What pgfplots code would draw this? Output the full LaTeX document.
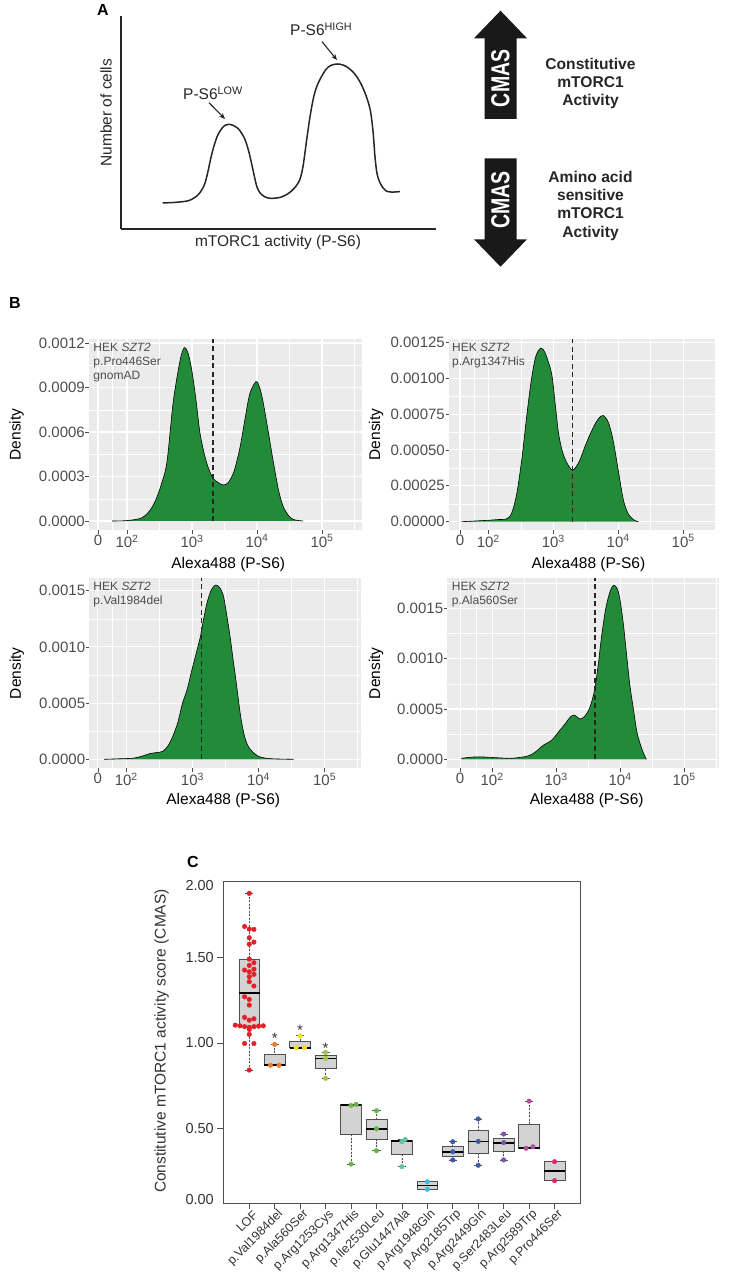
\documentclass[border=0pt]{standalone}
\usepackage{pgfplots}
\pgfplotsset{compat=1.18}
\usepackage{pgfplotstable}
\usepgfplotslibrary{statistics}
\usetikzlibrary{arrows.meta}
\usepackage{fontspec}
\setmainfont{Liberation Sans}
\newfontfamily\condbold[FakeStretch=0.75]{Liberation Sans Bold}
\definecolor{ggbg}{HTML}{EBEBEB}
\definecolor{gggreen}{RGB}{34,139,58}
\definecolor{txtgray}{HTML}{4D4D4D}
\definecolor{txt2}{HTML}{333333}
\definecolor{boxfill}{HTML}{D3D3D3}
\definecolor{boxline}{HTML}{505050}
\definecolor{cred}{RGB}{228,30,38}
\definecolor{corange}{RGB}{232,125,45}
\definecolor{cyellow}{RGB}{245,225,20}
\definecolor{cyg}{RGB}{160,200,60}
\definecolor{cgreen}{RGB}{105,180,70}
\definecolor{cteal}{RGB}{100,195,160}
\definecolor{ccyan}{RGB}{60,185,230}
\definecolor{cblue}{RGB}{60,90,165}
\definecolor{cpurple}{RGB}{120,85,165}
\definecolor{cmag}{RGB}{175,80,160}
\definecolor{cpink}{RGB}{225,40,110}

% Panel A schematic curve (x in px, y = height above axis, 300 = axis top)
\pgfplotstableread{
x y
162.7 36.7
175 37.5
188.7 40
198 48
204 61
207.5 78
211 101
214.6 120
218 133
221.7 141.4
225 146
228.8 147.5
233 146
238.2 141.4
242 134
245.3 125
249 108
252.4 87
255 70
257 59
260 51
264 46
268.5 43.5
273.6 43.3
280 44.5
287.7 49.4
294 57
299.5 68.3
303 88
306.6 125
310 158
313.7 186.2
318 205
325.5 224
331 230.5
337.3 232.4
343 231
349 226.3
355 218
360.8 205
366 188
370.3 167.3
373 138
375 101.3
377 78
379.7 66
383 58
386.8 53.2
392 52
400 52.7
}\dA

% Panel B density curves (u = log10 position on the display scale)
\pgfplotstableread{
u d
1.77 0
2.00 0.000003
2.22 0.00002
2.35 0.00007
2.44 0.00014
2.53 0.00025
2.615 0.00040
2.71 0.00080
2.815 0.00108
2.88 0.001168
2.94 0.00113
2.995 0.00102
3.06 0.00082
3.12 0.00060
3.19 0.00045
3.25 0.00036
3.32 0.00029
3.40 0.00026
3.48 0.000243
3.56 0.00026
3.65 0.00034
3.74 0.00050
3.82 0.00070
3.89 0.00086
3.985 0.00094
4.04 0.00090
4.09 0.00081
4.17 0.00061
4.25 0.00040
4.33 0.00021
4.40 0.00010
4.48 0.00004
4.56 0.00001
4.71 0
}\dTL

\pgfplotstableread{
u d
1.59 0
1.80 0.000005
2.00 0.00001
2.15 0.000015
2.28 0.00002
2.36 0.00006
2.44 0.00020
2.52 0.00045
2.59 0.00073
2.66 0.00098
2.73 0.00115
2.81 0.00121
2.88 0.00117
2.975 0.00103
3.03 0.00082
3.08 0.00062
3.14 0.00049
3.21 0.00041
3.30 0.00036
3.40 0.00042
3.51 0.00055
3.62 0.00066
3.70 0.00072
3.77 0.00074
3.85 0.00069
3.92 0.00057
4.00 0.00036
4.08 0.00015
4.16 0.00005
4.25 0.00001
4.31 0
}\dTR

\pgfplotstableread{
u d
1.665 0
1.90 0.000005
2.10 0.00001
2.25 0.00003
2.35 0.00005
2.45 0.00006
2.55 0.00007
2.63 0.00012
2.70 0.00020
2.78 0.00033
2.85 0.00050
2.92 0.00062
2.99 0.00079
3.06 0.00095
3.12 0.00109
3.17 0.00125
3.22 0.00139
3.28 0.00150
3.345 0.00155
3.41 0.00153
3.47 0.00145
3.52 0.00128
3.57 0.00109
3.61 0.00091
3.65 0.00074
3.73 0.00038
3.79 0.00020
3.85 0.00011
3.94 0.00005
4.03 0.00002
4.20 0.000005
4.53 0
}\dBL

\pgfplotstableread{
u d
1.52 0.00001
1.65 0.00002
1.80 0.000025
1.95 0.00002
2.10 0.000015
2.28 0.00001
2.45 0.00002
2.59 0.00004
2.69 0.00008
2.80 0.00014
2.93 0.00019
3.06 0.00029
3.15 0.00036
3.22 0.00042
3.28 0.00044
3.33 0.00042
3.38 0.00040
3.45 0.00043
3.51 0.00049
3.56 0.00058
3.61 0.00072
3.66 0.00095
3.71 0.00122
3.77 0.00148
3.82 0.00162
3.87 0.00171
3.91 0.00173
3.96 0.00169
4.00 0.00158
4.05 0.00135
4.10 0.00105
4.15 0.00075
4.21 0.00049
4.26 0.00028
4.31 0.00016
4.36 0.00007
4.41 0
}\dBR

\tikzset{ann/.style={anchor=north west, align=left, font=\fontsize{12}{14.3}\selectfont, text=txtgray, inner sep=0pt}}
\pgfplotsset{
  dens/.style={
    scale only axis, clip=true,
    scaled y ticks=false, scaled x ticks=false,
    axis background/.style={fill=ggbg},
    axis line style={draw=none},
    grid=both,
    major grid style={white, line width=1.1pt},
    minor grid style={white, line width=0.5pt},
    tick align=outside, tick pos=left,
    major tick length=3.5pt, minor tick length=0pt,
    tick style={black!70, line width=0.7pt},
    tick label style={font=\fontsize{15}{15}\selectfont, text=txtgray},
    yticklabel style={inner sep=0.5pt},
    xticklabel style={inner sep=1pt},
    label style={font=\fontsize{15.5}{15.5}\selectfont},
    xlabel={Alexa488 (P-S6)}, ylabel={Density},
    xticklabels={0,10\textsuperscript{2},10\textsuperscript{3},10\textsuperscript{4},10\textsuperscript{5}},
  },
  area/.style={smooth, fill=gggreen, draw=none},
  curve/.style={smooth, black, line width=0.6pt},
  vl/.style={black!85, line width=1.5pt, dash pattern=on 5pt off 3.5pt},
  bxs/.style={draw=boxline, fill=boxfill, line width=0.6pt, solid},
  pts/.style={only marks, mark=*, mark size=2.3pt, color=#1, mark options={solid, fill=#1, draw=#1}},
}

\begin{document}
\begin{tikzpicture}
\useasboundingbox (0,0) rectangle (733pt,-1276pt);

%================ Panel A =================
\node[font=\bfseries\fontsize{16}{16}\selectfont] at (103pt,-10pt) {A};
\begin{axis}[at={(121pt,-229pt)}, anchor=south west, scale only axis,
  width=315pt, height=213pt, xmin=121, xmax=436, ymin=0, ymax=300,
  axis lines=left, axis line style={-, line width=1.3pt, black!85},
  every outer x axis line/.append style={-}, every outer y axis line/.append style={-},
  xtick=\empty, ytick=\empty, clip=false]
\addplot[smooth, line width=1.5pt, black!85] table[x=x,y=y] {\dA};
\end{axis}
\node[rotate=90, font=\fontsize{15.5}{15.5}\selectfont, text=black!85] at (106pt,-112.7pt) {Number of cells};
\node[font=\fontsize{15.5}{15.5}\selectfont, text=black!85] at (278pt,-242.5pt) {mTORC1 activity (P-S6)};
\node[anchor=west, font=\fontsize{15.5}{15.5}\selectfont, text=black!85, inner sep=0pt] at (183pt,-93.3pt) {P-S6\textsuperscript{LOW}};
\node[anchor=west, font=\fontsize{15.5}{15.5}\selectfont, text=black!85, inner sep=0pt] at (290pt,-29.3pt) {P-S6\textsuperscript{HIGH}};
\draw[-{Stealth[length=6pt,width=5pt]}, line width=1.1pt, black!85] (209pt,-102.7pt) -- (225pt,-119pt);
\draw[-{Stealth[length=6pt,width=5pt]}, line width=1.1pt, black!85] (322pt,-41.7pt) -- (337pt,-60pt);
% big arrows
\fill[black!90] (500.5pt,-10.7pt) -- (527pt,-38.3pt) -- (516.5pt,-38.3pt) -- (516.5pt,-119pt) -- (484.5pt,-119pt) -- (484.5pt,-38.3pt) -- (474pt,-38.3pt) -- cycle;
\fill[black!90] (500.5pt,-266.7pt) -- (527pt,-239.3pt) -- (516.5pt,-239.3pt) -- (516.5pt,-158.3pt) -- (484.5pt,-158.3pt) -- (484.5pt,-239.3pt) -- (474pt,-239.3pt) -- cycle;
\node[rotate=90, text=white, font=\condbold\fontsize{26}{26}\selectfont] at (500.5pt,-78.3pt) {CMAS};
\node[rotate=90, text=white, font=\condbold\fontsize{26}{26}\selectfont] at (500.5pt,-200pt) {CMAS};
\node[align=center, font=\bfseries\fontsize{15.6}{18.3}\selectfont, text=black!85] at (590.5pt,-83.3pt) {Constitutive\\mTORC1\\Activity};
\node[align=center, font=\bfseries\fontsize{15.6}{18.3}\selectfont, text=black!85] at (590.5pt,-205.8pt) {Amino acid\\sensitive\\mTORC1\\Activity};

%================ Panel B =================
\node[font=\bfseries\fontsize{16}{16}\selectfont] at (15pt,-303pt) {B};

\begin{axis}[dens, at={(89pt,-530pt)}, anchor=south west, width=273pt, height=191pt,
  xmin=1.415, xmax=5.615, ymin=-0.0000607, ymax=0.001227,
  xtick={1.554,2,3,4,5}, minor xtick={1.777,2.5,3.5,4.5,5.5},
  ytick={0,0.0003,0.0006,0.0009,0.0012}, yticklabels={0.0000,0.0003,0.0006,0.0009,0.0012},
  minor ytick={0.00015,0.00045,0.00075,0.00105},
  xlabel style={at={(axis description cs:0.51,-0.178)}, anchor=center},
  ylabel style={at={(axis description cs:-0.265,0.5)}, anchor=center}]
\addplot[area] table[x=u,y=d] {\dTL} \closedcycle;
\addplot[curve] table[x=u,y=d] {\dTL};
\addplot[vl] coordinates {(3.32,0) (3.32,0.001227)};
\node[ann, xshift=4.3pt, yshift=-3.5pt] at (rel axis cs:0,1) {HEK \textit{SZT2}\\p.Pro446Ser\\gnomAD};
\end{axis}

\begin{axis}[dens, at={(449pt,-530pt)}, anchor=south west, width=266pt, height=191pt,
  xmin=1.395, xmax=5.49, ymin=-0.0000578, ymax=0.001273,
  xtick={1.565,2,3,4,5}, minor xtick={1.78,2.5,3.5,4.5},
  ytick={0,0.00025,0.0005,0.00075,0.001,0.00125}, yticklabels={0.00000,0.00025,0.00050,0.00075,0.00100,0.00125},
  minor ytick={0.000125,0.000375,0.000625,0.000875,0.001125},
  xlabel style={at={(axis description cs:0.524,-0.183)}, anchor=center},
  ylabel style={at={(axis description cs:-0.274,0.5)}, anchor=center}]
\addplot[area] table[x=u,y=d] {\dTR} \closedcycle;
\addplot[curve] table[x=u,y=d] {\dTR};
\addplot[vl] coordinates {(3.30,0) (3.30,0.001273)};
\node[ann, xshift=3pt, yshift=-3.5pt] at (rel axis cs:0,1) {HEK \textit{SZT2}\\p.Arg1347His};
\end{axis}

\begin{axis}[dens, at={(89.3pt,-768.3pt)}, anchor=south west, width=271.7pt, height=190pt,
  xmin=1.44, xmax=5.55, ymin=-0.00008, ymax=0.00161,
  xtick={1.57,2,3,4,5}, minor xtick={1.785,2.5,3.5,4.5,5.5},
  ytick={0,0.0005,0.001,0.0015}, yticklabels={0.0000,0.0005,0.0010,0.0015},
  minor ytick={0.00025,0.00075,0.00125},
  xlabel style={at={(axis description cs:0.493,-0.167)}, anchor=center},
  ylabel style={at={(axis description cs:-0.267,0.5)}, anchor=center}]
\addplot[area] table[x=u,y=d] {\dBL} \closedcycle;
\addplot[curve] table[x=u,y=d] {\dBL};
\addplot[vl] coordinates {(3.14,0) (3.14,0.00161)};
\node[ann, xshift=4pt, yshift=-3.5pt] at (rel axis cs:0,1) {HEK \textit{SZT2}\\p.Val1984del};
\end{axis}

\begin{axis}[dens, at={(447.3pt,-768.3pt)}, anchor=south west, width=272pt, height=190pt,
  xmin=1.30, xmax=5.55, ymin=-0.0000894, ymax=0.0018,
  xtick={1.5,2,3,4,5}, minor xtick={1.75,2.5,3.5,4.5,5.5},
  ytick={0,0.0005,0.001,0.0015}, yticklabels={0.0000,0.0005,0.0010,0.0015},
  minor ytick={0.00025,0.00075,0.00125,0.00175},
  xlabel style={at={(axis description cs:0.5125,-0.167)}, anchor=center},
  ylabel style={at={(axis description cs:-0.262,0.5)}, anchor=center}]
\addplot[area] table[x=u,y=d] {\dBR} \closedcycle;
\addplot[curve] table[x=u,y=d] {\dBR};
\addplot[vl] coordinates {(3.61,0) (3.61,0.0018)};
\node[ann, xshift=4.4pt, yshift=-3.5pt] at (rel axis cs:0,1) {HEK \textit{SZT2}\\p.Ala560Ser};
\end{axis}

%================ Panel C =================
\node[font=\bfseries\fontsize{16}{16}\selectfont] at (193pt,-862pt) {C};
\begin{axis}[at={(223.3pt,-1203pt)}, anchor=south west, scale only axis,
  width=356.7pt, height=321.3pt,
  xmin=-1.02, xmax=13.0, ymin=0.067, ymax=1.94,
  axis line style={boxline, line width=0.7pt},
  tick align=outside, tick pos=left, major tick length=6pt,
  tick style={boxline, line width=0.7pt},
  xtick={0,1,2,3,4,5,6,7,8,9,10,11,12},
  xticklabels={LOF,p.Val1984del,p.Ala560Ser,p.Arg1253Cys,p.Arg1347His,p.Ile2530Leu,p.Glu1447Ala,p.Arg1948Gln,p.Arg2185Trp,p.Arg2449Gln,p.Ser2483Leu,p.Arg2589Trp,p.Pro446Ser},
  xticklabel style={rotate=45, anchor=east, font=\fontsize{12.5}{12.5}\selectfont, text=txt2, inner sep=1pt, yshift=-7pt, xshift=3pt},
  ytick={0.5,1,1.5}, yticklabels={0.50,1.00,1.50},
  extra y ticks={0.085,1.916}, extra y tick labels={0.00,2.00},
  extra y tick style={tick style={draw=none}},
  yticklabel style={font=\fontsize{14.5}{14.5}\selectfont, text=txt2},
  ylabel={Constitutive mTORC1 activity score (CMAS)},
  ylabel style={at={(axis description cs:-0.1727,0.504)}, anchor=center, font=\fontsize{15.5}{15.5}\selectfont, text=txt2},
  boxplot/draw direction=y,
  boxplot/box extend=0.82,
  boxplot/whisker extend=0.32,
  boxplot/draw/lower whisker/.code={
    \draw[boxline, line width=0.6pt, dash pattern=on 2pt off 1.5pt]
      (boxplot box cs:\pgfplotsboxplotvalue{lower whisker},0.5) -- (boxplot box cs:\pgfplotsboxplotvalue{lower quartile},0.5);
    \draw[boxline, line width=0.6pt, solid]
      (boxplot whisker cs:\pgfplotsboxplotvalue{lower whisker},0) -- (boxplot whisker cs:\pgfplotsboxplotvalue{lower whisker},1);
  },
  boxplot/draw/upper whisker/.code={
    \draw[boxline, line width=0.6pt, dash pattern=on 2pt off 1.5pt]
      (boxplot box cs:\pgfplotsboxplotvalue{upper whisker},0.5) -- (boxplot box cs:\pgfplotsboxplotvalue{upper quartile},0.5);
    \draw[boxline, line width=0.6pt, solid]
      (boxplot whisker cs:\pgfplotsboxplotvalue{upper whisker},0) -- (boxplot whisker cs:\pgfplotsboxplotvalue{upper whisker},1);
  },
  boxplot/every median/.style={black, line width=1.8pt},
]
\addplot[bxs, boxplot prepared={draw position=0, lower whisker=0.842, lower quartile=1.100, median=1.289, upper quartile=1.489, upper whisker=1.872}] coordinates {};
\addplot[bxs, boxplot prepared={draw position=1, lower whisker=0.867, lower quartile=0.867, median=0.870, upper quartile=0.933, upper whisker=0.992}] coordinates {};
\addplot[bxs, boxplot prepared={draw position=2, lower whisker=0.972, lower quartile=0.972, median=0.972, upper quartile=1.007, upper whisker=1.042}] coordinates {};
\addplot[bxs, boxplot prepared={draw position=3, lower whisker=0.794, lower quartile=0.852, median=0.910, upper quartile=0.928, upper whisker=0.945}] coordinates {};
\addplot[bxs, boxplot prepared={draw position=4, lower whisker=0.294, lower quartile=0.466, median=0.638, upper quartile=0.642, upper whisker=0.642}] coordinates {};
\addplot[bxs, boxplot prepared={draw position=5, lower whisker=0.372, lower quartile=0.436, median=0.500, upper quartile=0.553, upper whisker=0.605}] coordinates {};
\addplot[bxs, boxplot prepared={draw position=6, lower whisker=0.279, lower quartile=0.353, median=0.428, upper quartile=0.433, upper whisker=0.438}] coordinates {};
\addplot[bxs, boxplot prepared={draw position=7, lower whisker=0.147, lower quartile=0.147, median=0.169, upper quartile=0.191, upper whisker=0.191}] coordinates {};
\addplot[bxs, boxplot prepared={draw position=8, lower whisker=0.318, lower quartile=0.342, median=0.366, upper quartile=0.395, upper whisker=0.424}] coordinates {};
\addplot[bxs, boxplot prepared={draw position=9, lower whisker=0.287, lower quartile=0.356, median=0.426, upper quartile=0.492, upper whisker=0.557}] coordinates {};
\addplot[bxs, boxplot prepared={draw position=10, lower whisker=0.318, lower quartile=0.368, median=0.419, upper quartile=0.444, upper whisker=0.469}] coordinates {};
\addplot[bxs, boxplot prepared={draw position=11, lower whisker=0.386, lower quartile=0.388, median=0.390, upper quartile=0.528, upper whisker=0.661}] coordinates {};
\addplot[bxs, boxplot prepared={draw position=12, lower whisker=0.197, lower quartile=0.197, median=0.253, upper quartile=0.308, upper whisker=0.308}] coordinates {};

\addplot[pts=cred] coordinates {
(0,1.872)
(-0.184,1.679) (0,1.664) (0.184,1.662)
(0,1.613)
(0.184,1.588) (0,1.576)
(0,1.489) (0.184,1.468) (0,1.452)
(-0.184,1.425) (0,1.415) (0.184,1.430)
(0.184,1.400) (0,1.386) (0,1.357) (0.184,1.332)
(-0.184,1.269) (0,1.254) (0,1.221)
(-0.184,1.149) (0,1.133) (0.184,1.141)
(-0.55,1.104) (-0.367,1.100) (-0.184,1.095) (0,1.091) (0.184,1.095) (0.367,1.098) (0.55,1.100)
(0,1.079) (0,1.050)
(-0.184,0.997) (0.184,0.997)
(0,0.842)};
\addplot[pts=corange] coordinates {(0.83,0.870) (1.17,0.870) (1,0.992)};
\addplot[pts=cyellow] coordinates {(1.84,0.972) (2.17,0.972) (2,1.042)};
\addplot[pts=cyg] coordinates {(3,0.945) (3,0.910) (3,0.794)};
\addplot[pts=cgreen] coordinates {(4,0.636) (4.2,0.642) (4,0.294)};
\addplot[pts=cgreen] coordinates {(5,0.605) (5,0.500) (5,0.372)};
\addplot[pts=cteal] coordinates {(6,0.425) (6.13,0.438) (6,0.279)};
\addplot[pts=ccyan] coordinates {(7,0.191) (7,0.147)};
\addplot[pts=cblue] coordinates {(8,0.424) (8,0.366) (8,0.318)};
\addplot[pts=cblue] coordinates {(9,0.557) (9,0.426) (9,0.287)};
\addplot[pts=cpurple] coordinates {(10,0.469) (10,0.419) (10,0.318)};
\addplot[pts=cmag] coordinates {(11,0.661) (10.88,0.386) (11.15,0.395)};
\addplot[pts=cpink] coordinates {(12,0.308) (12,0.197)};

\node[font=\fontsize{15}{15}\selectfont, text=txt2] at (axis cs:1,1.029) {*};
\node[font=\fontsize{15}{15}\selectfont, text=txt2] at (axis cs:2,1.071) {*};
\node[font=\fontsize{15}{15}\selectfont, text=txt2] at (axis cs:3,0.970) {*};
\end{axis}
\end{tikzpicture}
\end{document}
